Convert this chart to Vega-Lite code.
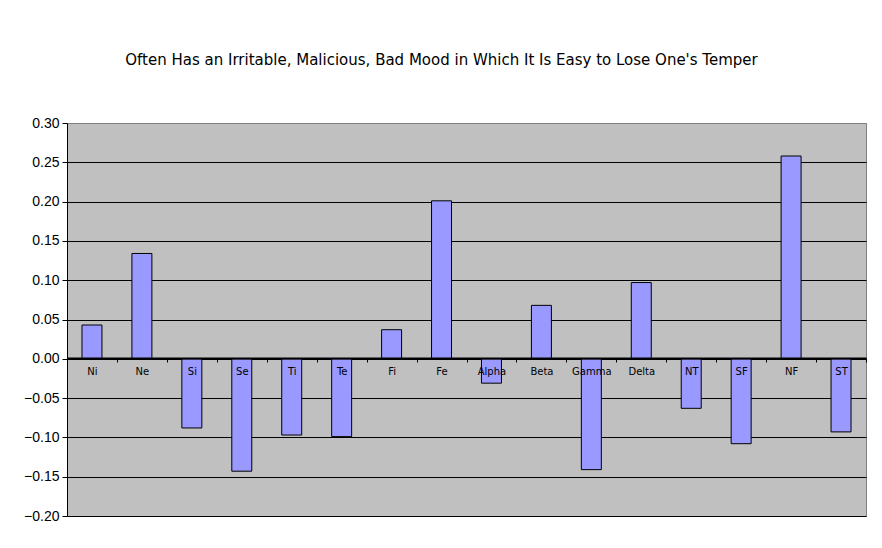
{
  "$schema": "https://vega.github.io/schema/vega-lite/v6.json",
  "autosize": "none",
  "width": 799,
  "height": 393,
  "padding": {"left": 67, "top": 123, "right": 16, "bottom": 32},
  "background": "white",
  "title": {
    "text": "Often Has an Irritable, Malicious, Bad Mood in Which It Is Easy to Lose One's Temper",
    "font": "DejaVu Sans",
    "fontSize": 15,
    "fontWeight": "normal",
    "color": "black",
    "anchor": "middle",
    "dx": -25,
    "offset": 48
  },
  "data": {
    "values": [
      {"type": "Ni", "value": 0.043},
      {"type": "Ne", "value": 0.134},
      {"type": "Si", "value": -0.088},
      {"type": "Se", "value": -0.143},
      {"type": "Ti", "value": -0.097},
      {"type": "Te", "value": -0.099},
      {"type": "Fi", "value": 0.037},
      {"type": "Fe", "value": 0.201},
      {"type": "Alpha", "value": -0.031},
      {"type": "Beta", "value": 0.068},
      {"type": "Gamma", "value": -0.141},
      {"type": "Delta", "value": 0.097},
      {"type": "NT", "value": -0.063},
      {"type": "SF", "value": -0.108},
      {"type": "NF", "value": 0.258},
      {"type": "ST", "value": -0.093}
    ]
  },
  "mark": {
    "type": "bar",
    "width": {"band": 0.4},
    "fill": "#9999FF",
    "stroke": "black",
    "strokeWidth": 1
  },
  "encoding": {
    "x": {
      "field": "type",
      "type": "nominal",
      "sort": null,
      "scale": {"paddingInner": 0, "paddingOuter": 0},
      "axis": {
        "title": null,
        "orient": "bottom",
        "offset": -158,
        "zindex": 1,
        "labelAngle": 0,
        "labelFont": "DejaVu Sans",
        "labelFontSize": 10,
        "labelColor": "black",
        "labelPadding": 4,
        "domainColor": "black",
        "domainWidth": 2,
        "tickColor": "black",
        "tickBand": "extent",
        "tickSize": 4,
        "grid": false
      }
    },
    "y": {
      "field": "value",
      "type": "quantitative",
      "scale": {"domain": [-0.2, 0.3], "nice": false},
      "axis": {
        "title": null,
        "values": [-0.2, -0.15, -0.1, -0.05, 0, 0.05, 0.1, 0.15, 0.2, 0.25, 0.3],
        "format": ".2f",
        "labelFont": "Liberation Sans",
        "labelFontSize": 14,
        "labelColor": "black",
        "labelPadding": 3,
        "domainColor": "black",
        "tickColor": "black",
        "tickSize": 5,
        "grid": true,
        "gridColor": {
          "condition": {"test": "datum.value >= 0.3", "value": "#808080"},
          "value": "black"
        },
        "gridOpacity": 1
      }
    }
  },
  "config": {
    "view": {"fill": "#C0C0C0", "stroke": "#808080", "strokeWidth": 1}
  }
}
